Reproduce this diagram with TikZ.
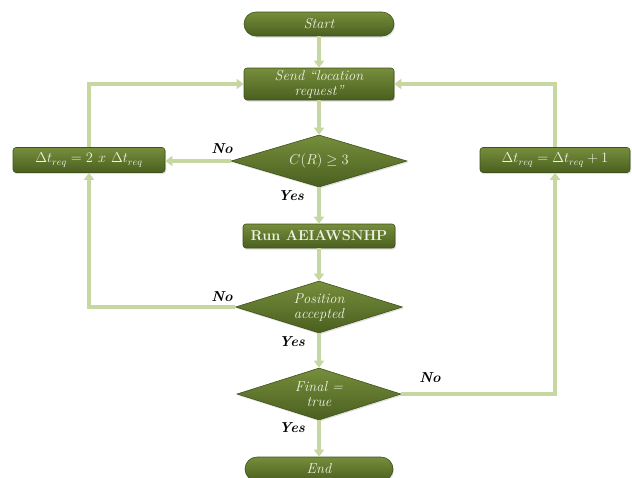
\documentclass[tikz,border=0pt]{standalone}
\usetikzlibrary{arrows.meta,shapes.geometric,shadows}
\definecolor{linecol}{HTML}{C6D7A2}
\definecolor{topg}{HTML}{768E3C}
\definecolor{botg}{HTML}{4A5F1F}
\definecolor{edgeg}{HTML}{3E5119}
\definecolor{txtg}{HTML}{EEF2E2}
\tikzset{
  base/.style={shade, top color=topg, bottom color=botg, draw=edgeg, line width=0.6pt,
    text=txtg, align=center, inner sep=1pt,
    drop shadow={opacity=0.25, shadow xshift=1pt, shadow yshift=-1.5pt}},
  pill/.style={base, rounded corners=12pt, minimum width=150pt, minimum height=24pt, font=\itshape\Large},
  box/.style={base, rounded corners=3pt, minimum width=150pt, minimum height=25pt, font=\itshape\Large},
  dec/.style={base, diamond, aspect=3.2, minimum width=170pt, minimum height=52pt, inner sep=0pt, font=\itshape\Large},
  conn/.style={draw=linecol, line width=3.5pt, -{Triangle[width=10pt,length=7pt]}},
  lab/.style={font=\bfseries\itshape\Large, text=black, inner sep=0pt}
}
\begin{document}
\begin{tikzpicture}[x=1pt,y=-1pt]
\useasboundingbox (0,0) rectangle (632,477);
\clip (0,0) rectangle (632,477);
\node[pill] (start) at (319,24) {Start};
\node[box, minimum height=32pt] (send) at (319,84) {Send ``location\\[-3pt]request''};
\node[dec, minimum width=176pt] (d1) at (319,161) {$C(R) \geq 3$};
\node[box, font=\bfseries\Large, minimum width=152pt, minimum height=24pt] (run) at (319,236) {Run AEIAWSNHP};
\node[dec, minimum width=167pt] (d2) at (319,307) {Position\\[-3pt]accepted};
\node[dec, minimum width=164pt] (d3) at (319,394) {Final =\\[-3pt]true};
\node[pill, minimum width=148pt] (end) at (319,469) {End};
\node[box, minimum width=152pt] (lb) at (89,160) {$\Delta t_{req} = 2\ x\ \Delta t_{req}$};
\node[box, minimum width=150pt] (rb) at (555,160) {$\Delta t_{req} = \Delta t_{req} + 1$};
\draw[conn] (start) -- (send);
\draw[conn] (send) -- (d1);
\draw[conn] (d1) -- (run);
\draw[conn] (run) -- (d2);
\draw[conn] (d2) -- (d3);
\draw[conn] (d3) -- (end);
\draw[conn] (d1.west) -- (d1.west -| lb.east);
\draw[conn] (lb.north) |- (send.west);
\draw[conn] (d2.west) -| (lb.south);
\draw[conn] (d3.east) -| (rb.south);
\draw[conn] (rb.north) |- (send.east);
\node[lab] (n1) at (222,149) {No};
\node[lab] (y1) at (291,196) {Yes};
\node[lab] (n2) at (222,297) {No};
\node[lab] (y2) at (292,342) {Yes};
\node[lab] (n3) at (430,378) {No};
\node[lab] (y3) at (292,428) {Yes};
\end{tikzpicture}
\end{document}
